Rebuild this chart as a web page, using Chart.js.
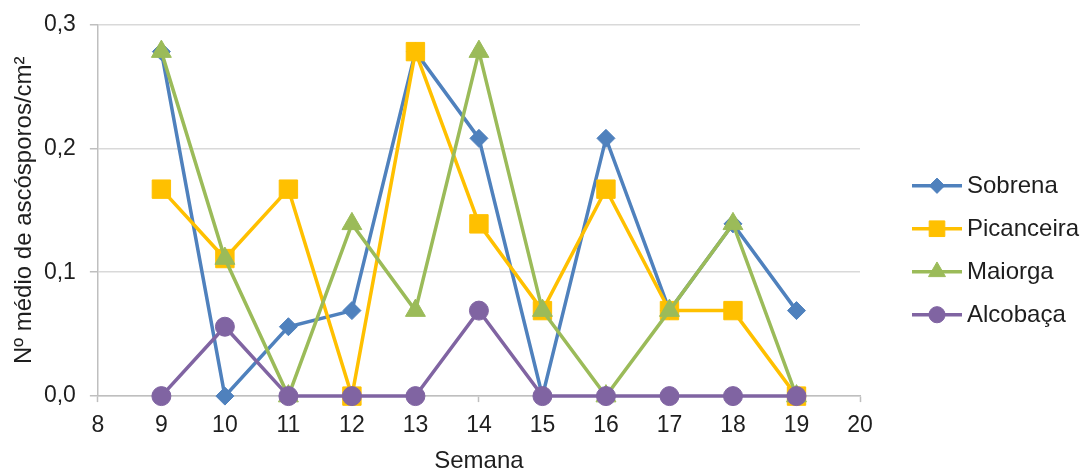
<!DOCTYPE html>
<html>
<head>
<meta charset="utf-8">
<script src="https://cdn.jsdelivr.net/npm/chart.js@4.4.1/dist/chart.umd.min.js"></script>
<style>
  html, body { margin: 0; padding: 0; background: #fff; }
  #wrap { width: 1086px; height: 470px; }
</style>
</head>
<body>
<div id="wrap"><canvas id="chart"></canvas></div>
<script>
// weeks on the x axis
const weeks = [9, 10, 11, 12, 13, 14, 15, 16, 17, 18, 19];

// mean ascospores / cm2 per week
const sobrena    = [0.278, 0, 0.056, 0.069, 0.278, 0.208, 0, 0.208, 0.069, 0.139, 0.069];
const picanceira = [0.167, 0.111, 0.167, 0, 0.278, 0.139, 0.069, 0.167, 0.069, 0.069, 0];
const maiorga    = [0.278, 0.111, 0, 0.139, 0.069, 0.278, 0.069, 0, 0.069, 0.139, 0];
const alcobaca   = [0, 0.056, 0, 0, 0, 0.069, 0, 0, 0, 0, 0];

const xTicks = [8, 9, 10, 11, 12, 13, 14, 15, 16, 17, 18, 19, 20];
const yTicks = [0, 0.1, 0.2, 0.3];

const FONT = '"Liberation Sans", Arial, sans-serif';
const TEXT = '#1e1e1e';

function makeSeries(label, values, color, marker, radius, order) {
  return {
    label: label,
    data: values.map((v, i) => ({ x: weeks[i], y: v })),
    borderColor: color,
    backgroundColor: color,
    borderWidth: 3.5,
    pointStyle: marker,
    pointRadius: radius,
    pointHoverRadius: radius,
    pointBackgroundColor: color,
    pointBorderColor: color,
    pointBorderWidth: 1,
    tension: 0,
    clip: false,
    order: order
  };
}

// legend on the right: a short line with the marker, then the name
const sideLegend = {
  id: 'sideLegend',
  afterDraw(chart) {
    const ctx = chart.ctx;
    const area = chart.chartArea;
    const sets = chart.data.datasets;
    const x0 = area.right + 52;
    const lineLen = 50;
    const gap = 43;
    const yMid = (area.top + area.bottom) / 2 + 40;
    ctx.save();
    sets.forEach((ds, i) => {
      const y = yMid + (i - (sets.length - 1) / 2) * gap;
      ctx.strokeStyle = ds.borderColor;
      ctx.lineWidth = ds.borderWidth;
      ctx.beginPath();
      ctx.moveTo(x0, y);
      ctx.lineTo(x0 + lineLen, y);
      ctx.stroke();
      ctx.fillStyle = ds.pointBackgroundColor;
      ctx.strokeStyle = ds.pointBorderColor;
      ctx.lineWidth = ds.pointBorderWidth;
      Chart.helpers.drawPoint(ctx, {
        pointStyle: ds.pointStyle,
        radius: ds.pointRadius * 0.85,
        rotation: 0,
        borderWidth: ds.pointBorderWidth
      }, x0 + lineLen / 2, y);
      ctx.fillStyle = TEXT;
      ctx.font = '24px ' + FONT;
      ctx.textAlign = 'left';
      ctx.textBaseline = 'middle';
      ctx.fillText(ds.label, x0 + lineLen + 5, y + 1);
    });
    ctx.restore();
  }
};

new Chart(document.getElementById('chart'), {
  type: 'line',
  data: {
    datasets: [
      makeSeries('Sobrena', sobrena, '#4f81bd', 'rectRot', 9, 4),
      makeSeries('Picanceira', picanceira, '#ffc000', 'rect', 13, 3),
      makeSeries('Maiorga', maiorga, '#9bbb59', 'triangle', 11.5, 2),
      makeSeries('Alcobaça', alcobaca, '#8064a2', 'circle', 9.5, 1)
    ]
  },
  options: {
    responsive: true,
    maintainAspectRatio: false,
    animation: false,
    layout: { padding: { left: 2.6, right: 226, top: 0, bottom: 0 } },
    plugins: {
      legend: { display: false },
      tooltip: { enabled: false }
    },
    scales: {
      x: {
        type: 'linear',
        min: xTicks[0],
        max: xTicks[xTicks.length - 1],
        afterBuildTicks: (axis) => { axis.ticks = xTicks.map(v => ({ value: v })); },
        ticks: {
          color: TEXT,
          font: { family: FONT, size: 23 },
          padding: 9.5,
          maxRotation: 0,
          autoSkip: false
        },
        grid: { drawOnChartArea: false, drawTicks: true, tickLength: 6, tickColor: '#bfbfbf', tickWidth: 1.5 },
        border: { color: '#bfbfbf', width: 1.5 },
        title: {
          display: true,
          text: 'Semana',
          color: TEXT,
          font: { family: FONT, size: 24 },
          padding: { top: -1.5, bottom: -6 }
        }
      },
      y: {
        min: yTicks[0],
        max: yTicks[yTicks.length - 1],
        afterBuildTicks: (axis) => { axis.ticks = yTicks.map(v => ({ value: v })); },
        ticks: {
          color: TEXT,
          font: { family: FONT, size: 23, lineHeight: 0.9 },
          padding: 14,
          callback: (v) => Number(v).toFixed(1).replace('.', ',')
        },
        grid: { color: '#d9d9d9', lineWidth: 1.5, tickLength: 8, tickColor: '#bfbfbf', tickWidth: 1.5 },
        border: { color: '#bfbfbf', width: 1.5 },
        title: {
          display: true,
          text: 'Nº médio de ascósporos/cm²',
          color: TEXT,
          font: { family: FONT, size: 24 },
          padding: { top: 7, bottom: -8.5 }
        }
      }
    }
  },
  plugins: [sideLegend]
});
</script>
</body>
</html>
